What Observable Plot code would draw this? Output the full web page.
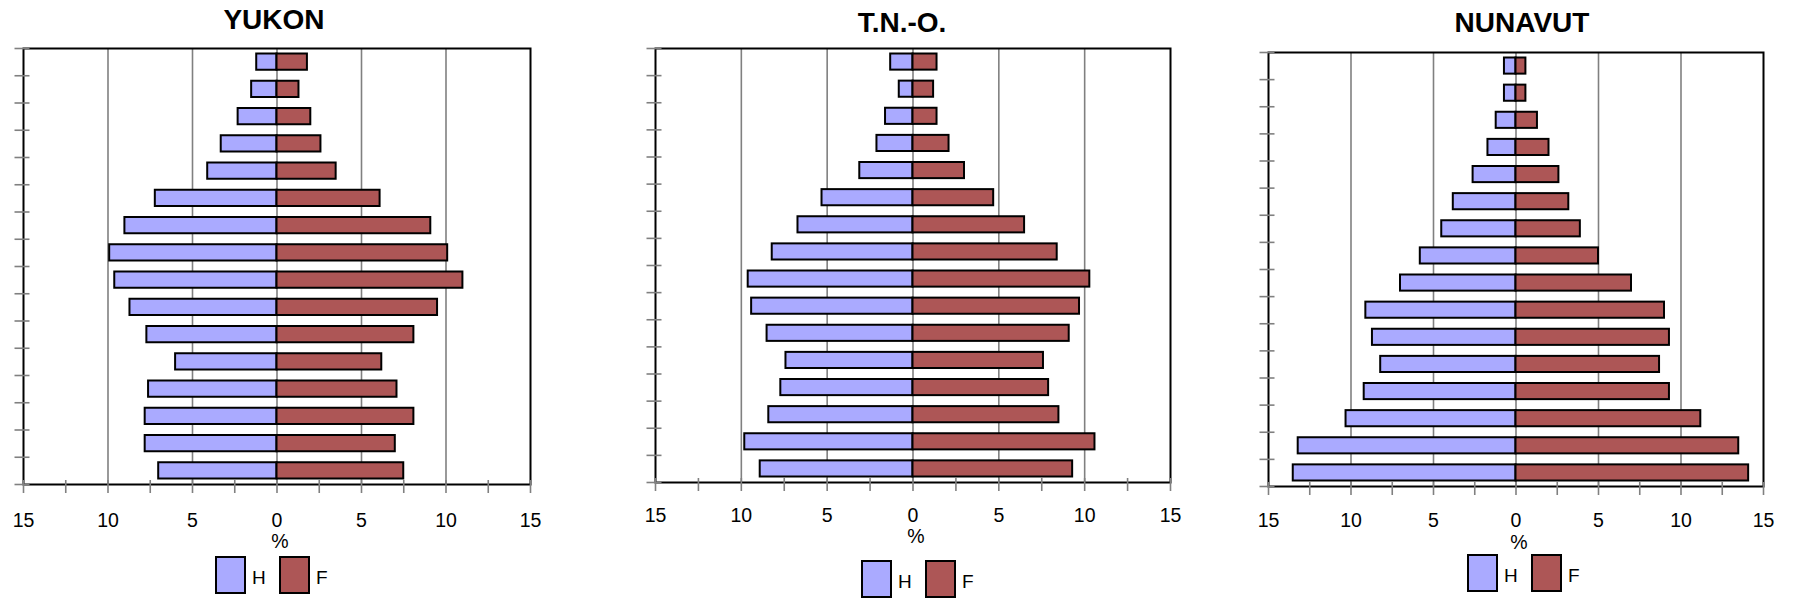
<!DOCTYPE html>
<html><head><meta charset="utf-8">
<script src="https://cdn.jsdelivr.net/npm/d3@7"></script>
<script src="https://cdn.jsdelivr.net/npm/@observablehq/plot@0.6"></script>
<style>
html,body{margin:0;padding:0;background:#fff;}
#root{position:relative;width:1794px;height:600px;overflow:hidden;font-family:"Liberation Sans",Arial,sans-serif;color:#000;}
.svgwrap{position:absolute;top:0;}
.title{position:absolute;width:400px;text-align:center;font-weight:bold;font-size:28px;line-height:28px;white-space:nowrap;}
.lbox{position:absolute;box-sizing:border-box;width:31px;height:38px;border:2px solid #000;}
.ltext{position:absolute;font-size:19px;line-height:19px;}
</style></head><body><div id="root"></div>
<script>
// Age groups, youngest (bottom) to oldest (top)
const ageGroups = ["0-4","5-9","10-14","15-19","20-24","25-29","30-34","35-39","40-44","45-49","50-54","55-59","60-64","65-69","70-74","75+"];
const sexes = ["H", "F"];
const sexColors = ["#AAAAFF", "#AD5656"];
const regions = ["YUKON", "T.N.-O.", "NUNAVUT"];

const yukonH = [7.0, 7.8, 7.8, 7.6, 6.0, 7.7, 8.7, 9.6, 9.9, 9.0, 7.2, 4.1, 3.3, 2.3, 1.5, 1.2];
const yukonF = [7.5, 7.0, 8.1, 7.1, 6.2, 8.1, 9.5, 11.0, 10.1, 9.1, 6.1, 3.5, 2.6, 2.0, 1.3, 1.8];
const tnoH = [8.9, 9.8, 8.4, 7.7, 7.4, 8.5, 9.4, 9.6, 8.2, 6.7, 5.3, 3.1, 2.1, 1.6, 0.8, 1.3];
const tnoF = [9.3, 10.6, 8.5, 7.9, 7.6, 9.1, 9.7, 10.3, 8.4, 6.5, 4.7, 3.0, 2.1, 1.4, 1.2, 1.4];
const nunavutH = [13.5, 13.2, 10.3, 9.2, 8.2, 8.7, 9.1, 7.0, 5.8, 4.5, 3.8, 2.6, 1.7, 1.2, 0.7, 0.7];
const nunavutF = [14.1, 13.5, 11.2, 9.3, 8.7, 9.3, 9.0, 7.0, 5.0, 3.9, 3.2, 2.6, 2.0, 1.3, 0.6, 0.6];

const xDomain = [-15, 15];
const gridValues = [-10, -5, 0, 5, 10];
const majorTicks = [-15, -10, -5, 0, 5, 10, 15];
const minorTicks = [-15, -12.5, -10, -7.5, -5, -2.5, 0, 2.5, 5, 7.5, 10, 12.5, 15];
const axisLabel = "%";

// layout (pixels)
const layout = [
  {left: 0,    width: 598, L: 23,   R: 530,  T: 48, B: 484, tx: 274,  ty: 20,   pad: 29, pctDy: 63, pctDx: 3, hx: 215,  fx: 279,  ly: 556},
  {left: 598,  width: 598, L: 655,  R: 1170, T: 48, B: 482, tx: 902,  ty: 22.5, pad: 25.5, pctDy: 60, pctDx: 3, hx: 861,  fx: 925,  ly: 560},
  {left: 1196, width: 598, L: 1268, R: 1763, T: 52, B: 486, tx: 1522, ty: 22.5, pad: 27, pctDy: 62, pctDx: 3, hx: 1467, fx: 1531, ly: 554}
];
const seriesH = [yukonH, tnoH, nunavutH];
const seriesF = [yukonF, tnoF, nunavutF];

const root = document.getElementById("root");

regions.forEach((name, k) => {
  const p = layout[k];
  const rows = ageGroups.map((g, i) => ({g, i, h: seriesH[k][i], f: seriesF[k][i]}));
  const chart = Plot.plot({
    width: p.width, height: 600,
    marginLeft: p.L - p.left, marginRight: p.left + p.width - p.R,
    marginTop: p.T, marginBottom: 600 - p.B,
    x: {domain: xDomain},
    y: {domain: [0, ageGroups.length]},
    style: {fontFamily: "'Liberation Sans', Arial, sans-serif", fontSize: "19px", color: "black", background: "transparent", overflow: "visible"},
    marks: [
      Plot.ruleX(gridValues, {x: d => d, stroke: "#808080", strokeWidth: 1.6}),
      Plot.rect(rows, {x1: d => -d.h, x2: () => 0, y1: d => d.i, y2: d => d.i + 1, insetTop: 5.5, insetBottom: 5.5, fill: sexColors[0], stroke: "black", strokeWidth: 2}),
      Plot.rect(rows, {x1: () => 0, x2: d => d.f, y1: d => d.i, y2: d => d.i + 1, insetTop: 5.5, insetBottom: 5.5, fill: sexColors[1], stroke: "black", strokeWidth: 2}),
      Plot.frame({stroke: "black", strokeWidth: 2}),
      Plot.axisY(d3.range(0, ageGroups.length + 1), {tickSize: 15, dx: 6.5, fill: "none", stroke: "#808080", strokeWidth: 1.6, label: null}),
      Plot.axisX(minorTicks, {tickSize: 13, dy: -4, fill: "none", stroke: "#808080", strokeWidth: 1.6, label: null}),
      Plot.axisX(majorTicks, {tickSize: 0, tickPadding: p.pad, tickFormat: d => String(Math.abs(d)), label: null, fontSize: 19.5}),
      Plot.text([axisLabel], {frameAnchor: "bottom", dy: p.pctDy, dx: p.pctDx, fontSize: 19.5, fill: "black"})
    ]
  });
  const wrap = document.createElement("div");
  wrap.className = "svgwrap";
  wrap.style.left = p.left + "px";
  wrap.appendChild(chart);
  root.appendChild(wrap);

  const title = document.createElement("div");
  title.className = "title";
  title.textContent = name;
  title.style.left = (p.tx - 200) + "px";
  title.style.top = (p.ty - 14) + "px";
  root.appendChild(title);

  [p.hx, p.fx].forEach((bx, j) => {
    const box = document.createElement("div");
    box.className = "lbox";
    box.style.left = bx + "px";
    box.style.top = p.ly + "px";
    box.style.background = sexColors[j];
    root.appendChild(box);
    const txt = document.createElement("div");
    txt.className = "ltext";
    txt.textContent = sexes[j];
    txt.style.left = (bx + 37) + "px";
    txt.style.top = (p.ly + 21 - 9.5) + "px";
    root.appendChild(txt);
  });
});
</script>
</body></html>
